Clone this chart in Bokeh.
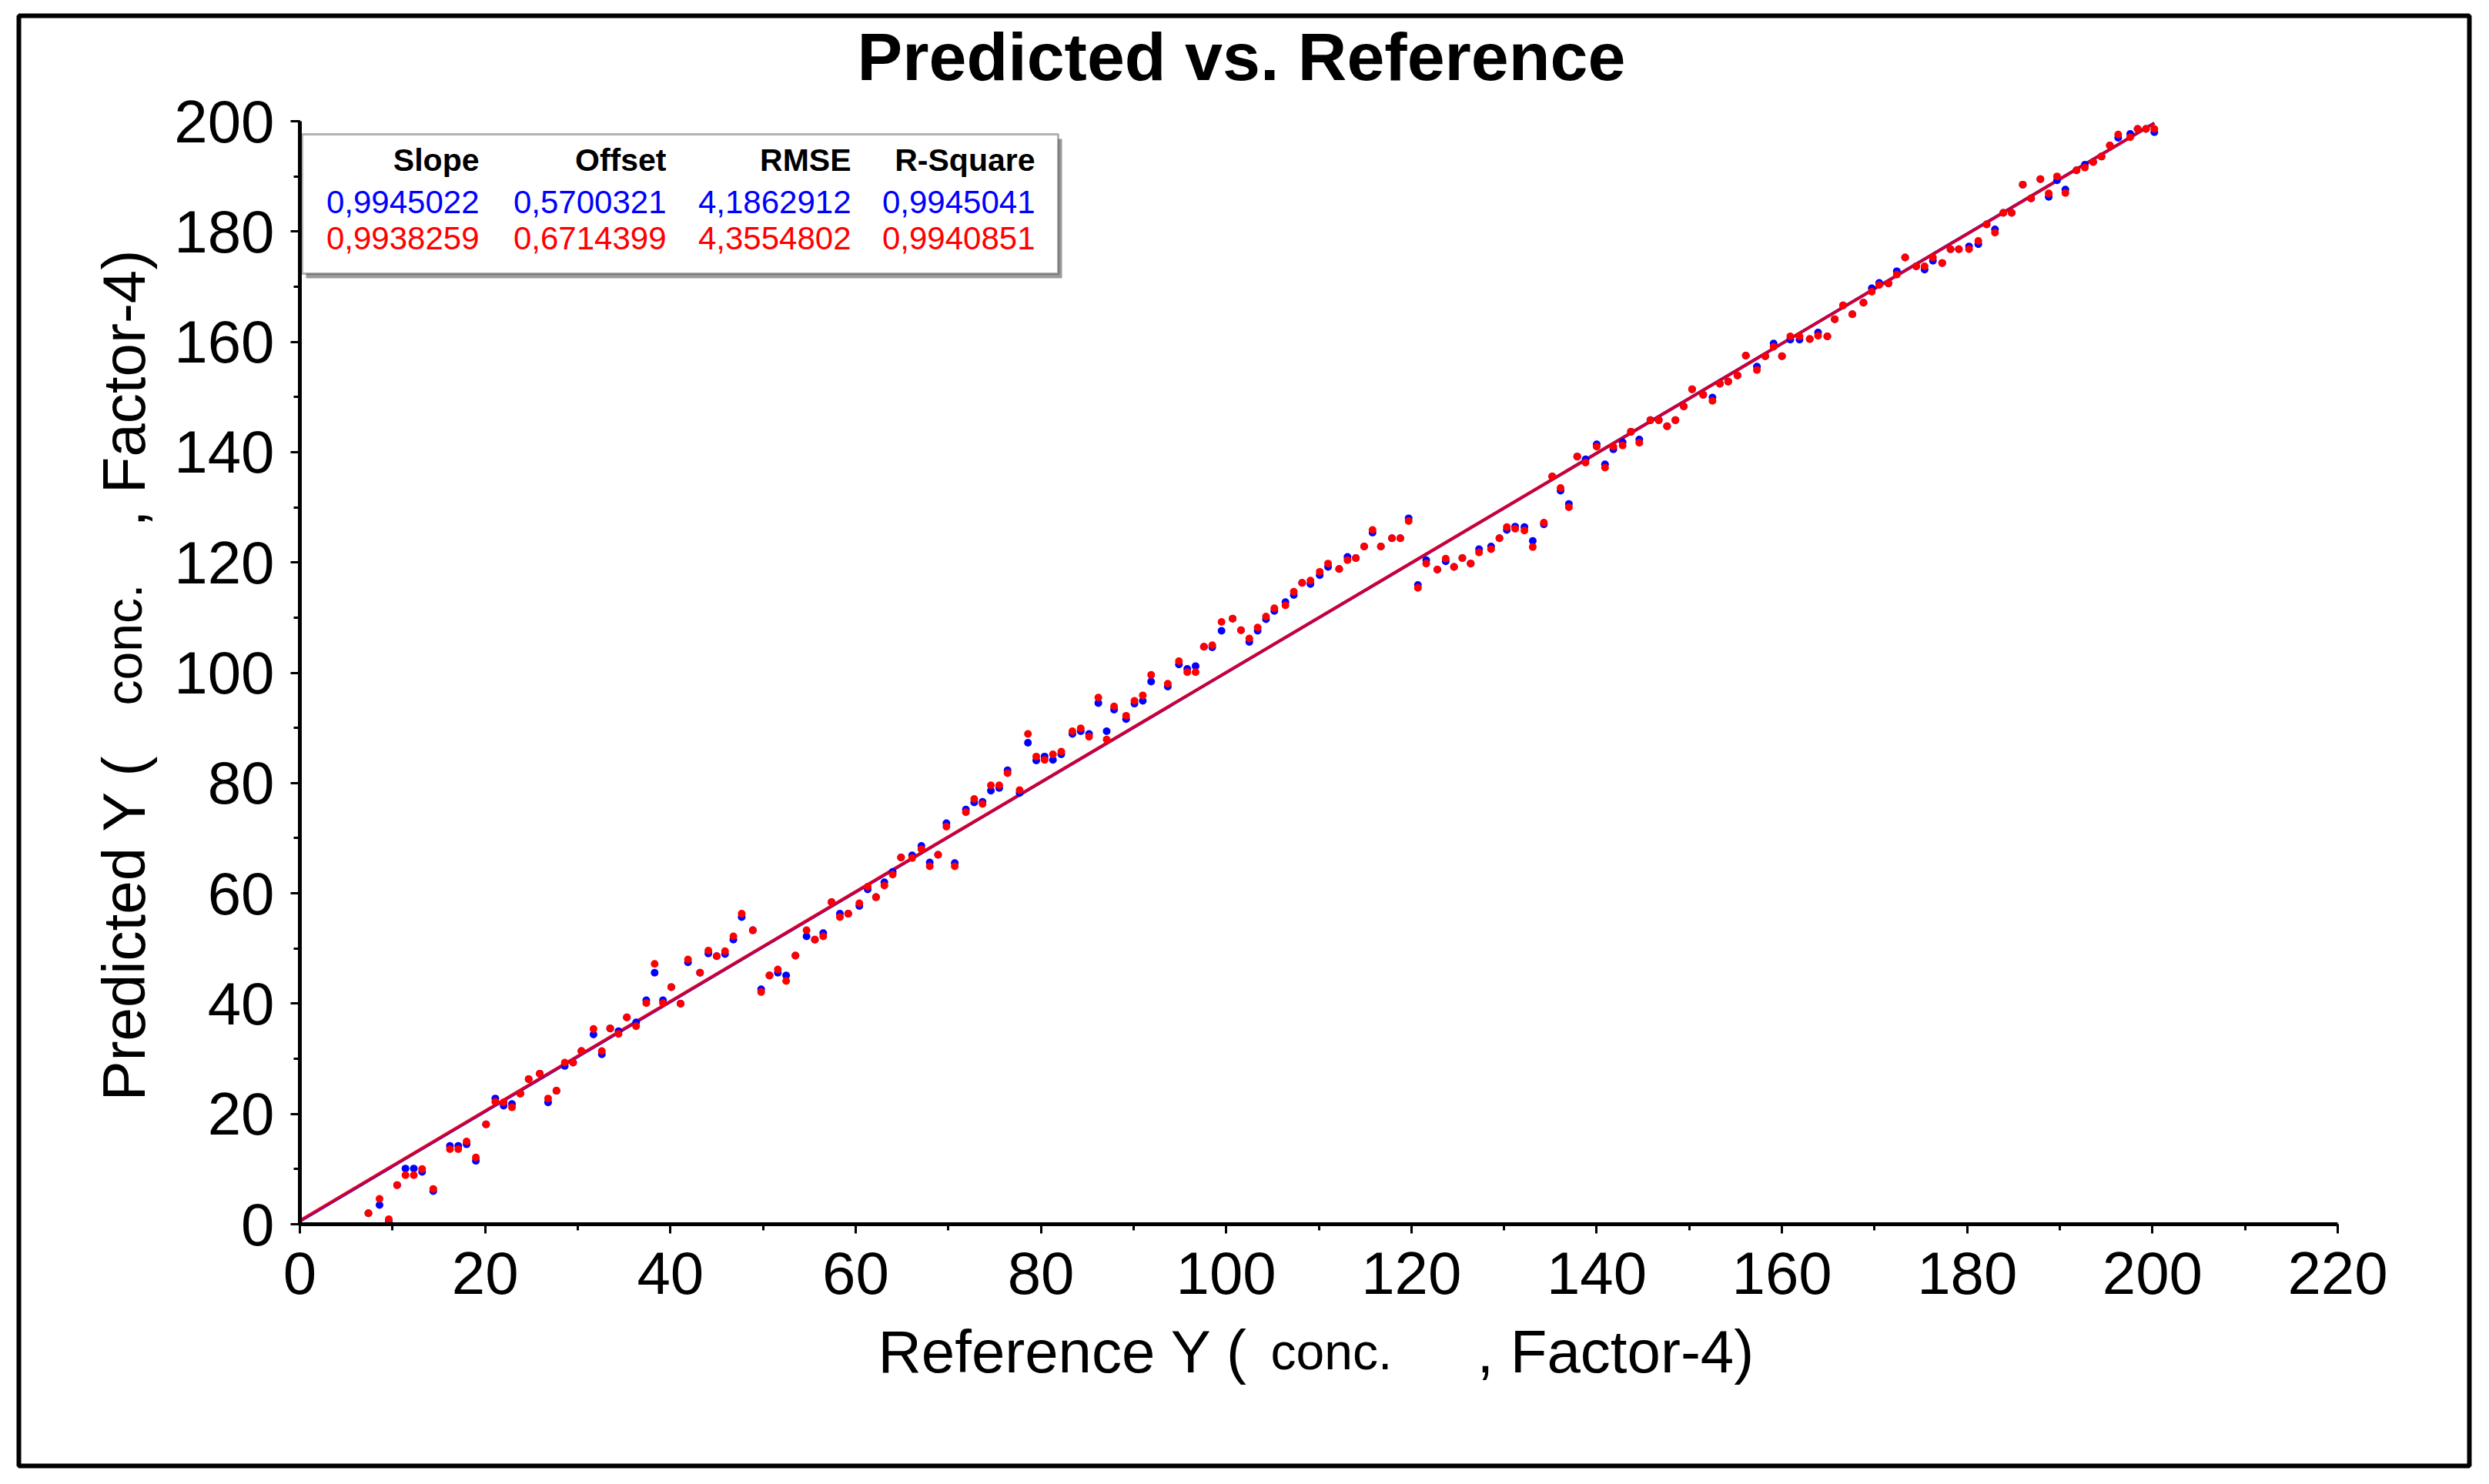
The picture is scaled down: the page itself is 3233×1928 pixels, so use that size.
import math
from bokeh.plotting import figure
from bokeh.models import Range1d, SingleIntervalTicker, Label, BoxAnnotation, ColumnDataSource
from bokeh.core.properties import value
from bokeh.embed import file_html
from bokeh.resources import INLINE

# ---------------- data ----------------
reference_y = [
    7.4, 8.6, 9.6, 10.5, 11.4, 12.3, 13.2, 14.4, 16.2, 17.1,
    18.0, 19.0, 20.1, 21.1, 22.0, 22.9, 23.8, 24.7, 25.9, 26.8,
    27.7, 28.6, 29.5, 30.4, 31.7, 32.6, 33.5, 34.4, 35.3, 36.3,
    37.4, 38.3, 39.2, 40.1, 41.1, 41.9, 43.2, 44.1, 45.0, 45.9,
    46.8, 47.7, 48.9, 49.8, 50.7, 51.6, 52.5, 53.5, 54.7, 55.6,
    56.5, 57.4, 58.3, 59.2, 60.4, 61.3, 62.2, 63.1, 64.0, 64.9,
    66.1, 67.1, 68.0, 68.9, 69.8, 70.7, 71.9, 72.8, 73.7, 74.6,
    75.5, 76.4, 77.7, 78.6, 79.5, 80.4, 81.3, 82.2, 83.4, 84.3,
    85.2, 86.2, 87.1, 87.9, 89.2, 90.1, 91.0, 91.9, 93.7, 94.9,
    95.8, 96.7, 97.6, 98.5, 99.5, 100.7, 101.6, 102.5, 103.4, 104.3,
    105.2, 106.4, 107.3, 108.2, 109.1, 110.1, 111.0, 112.2, 113.1, 114.0,
    114.9, 115.8, 116.7, 117.9, 118.8, 119.7, 120.7, 121.6, 122.8, 123.7,
    124.6, 125.5, 126.4, 127.3, 128.6, 129.5, 130.3, 131.2, 132.2, 133.1,
    134.3, 135.2, 136.1, 137.0, 137.9, 138.8, 140.0, 140.9, 141.8, 142.8,
    143.7, 144.6, 145.8, 146.7, 147.6, 148.5, 149.4, 150.3, 151.5, 152.5,
    153.3, 154.2, 155.2, 156.1, 157.3, 158.2, 159.1, 160.0, 160.9, 161.9,
    163.0, 163.9, 164.9, 165.7, 166.6, 167.6, 168.8, 169.7, 170.5, 171.5,
    172.4, 173.3, 174.5, 175.4, 176.3, 177.3, 178.2, 179.1, 180.2, 181.2,
    182.1, 183.0, 183.9, 184.8, 186.0, 186.9, 187.9, 188.8, 189.7, 190.6,
    191.8, 192.7, 193.6, 194.5, 195.4, 196.3, 197.6, 198.4, 199.3, 200.2,
]
predicted_red = [
    2.0, 4.6, 0.9, 7.1, 8.9, 8.9, 10.0, 6.4, 13.6, 13.6,
    15.0, 12.1, 18.1, 22.2, 22.1, 21.2, 23.7, 26.3, 27.3, 22.8,
    24.2, 29.3, 29.3, 31.4, 35.4, 31.4, 35.5, 34.5, 37.5, 35.9,
    40.1, 47.2, 40.1, 43.0, 40.0, 48.0, 45.6, 49.6, 48.6, 49.5,
    52.2, 56.3, 53.3, 42.1, 45.1, 46.2, 44.1, 48.7, 53.3, 51.6,
    52.2, 58.4, 55.7, 56.3, 58.2, 61.2, 59.3, 61.4, 63.4, 66.5,
    66.4, 68.0, 64.9, 67.0, 72.1, 64.9, 74.7, 77.1, 76.2, 79.6,
    79.6, 81.8, 78.7, 88.9, 84.8, 84.2, 85.2, 85.7, 89.4, 89.9,
    88.4, 95.5, 87.9, 93.9, 92.2, 94.9, 95.9, 99.6, 98.0, 102.1,
    100.1, 100.1, 104.7, 105.0, 109.2, 109.8, 107.7, 106.2, 108.2, 110.2,
    111.7, 112.2, 114.7, 116.3, 116.7, 118.3, 119.8, 118.8, 120.4, 120.8,
    122.9, 125.9, 122.9, 124.4, 124.4, 127.5, 115.4, 119.8, 118.7, 120.7,
    119.2, 120.8, 119.8, 121.8, 122.4, 124.4, 126.4, 126.1, 125.8, 122.8,
    127.2, 135.6, 133.5, 130.0, 139.2, 138.1, 141.0, 137.2, 141.0, 141.2,
    143.7, 141.7, 145.8, 145.8, 144.7, 145.8, 148.3, 151.4, 150.4, 149.3,
    152.4, 152.8, 153.9, 157.5, 154.9, 157.4, 159.1, 157.4, 161.0, 161.0,
    160.5, 161.1, 161.0, 164.1, 166.6, 165.0, 167.1, 169.1, 170.3, 170.6,
    172.2, 175.3, 173.7, 173.7, 175.3, 174.3, 176.8, 176.8, 176.8, 178.3,
    181.3, 179.8, 183.4, 183.4, 188.5, 186.0, 189.5, 186.9, 190.0, 187.0,
    191.1, 191.6, 192.6, 193.6, 195.6, 197.6, 197.1, 198.6, 198.6, 198.6,
]
predicted_blue = [
    2.0, 3.5, 0.6, 7.1, 10.1, 10.1, 9.5, 6.0, 14.2, 14.2,
    14.5, 11.5, 18.1, 22.8, 21.5, 21.8, 23.7, 26.3, 27.3, 22.1,
    24.2, 28.7, 29.3, 31.4, 34.4, 30.8, 35.5, 35.0, 37.5, 36.6,
    40.6, 45.6, 40.6, 43.0, 40.0, 47.5, 45.6, 49.1, 48.6, 49.0,
    51.6, 55.7, 53.3, 42.6, 45.1, 45.6, 45.1, 48.7, 52.2, 51.6,
    52.8, 58.4, 56.3, 56.3, 57.7, 60.7, 59.3, 62.0, 63.9, 66.5,
    66.9, 68.6, 65.6, 67.0, 72.7, 65.5, 75.2, 76.5, 76.6, 78.6,
    79.1, 82.3, 78.2, 87.3, 84.1, 84.8, 84.2, 85.2, 88.9, 89.4,
    88.9, 94.5, 89.4, 93.3, 91.6, 94.4, 94.9, 98.4, 97.5, 101.5,
    100.7, 101.2, 104.7, 104.6, 107.6, 109.8, 107.7, 105.6, 107.6, 109.7,
    111.2, 112.8, 114.1, 116.3, 116.1, 117.7, 119.2, 118.8, 121.0, 120.8,
    122.9, 125.4, 122.9, 124.4, 124.4, 128.0, 115.9, 120.4, 118.7, 120.2,
    119.2, 120.8, 119.8, 122.4, 122.9, 124.4, 125.9, 126.5, 126.4, 123.9,
    126.9, 135.6, 133.0, 130.6, 139.2, 138.7, 141.4, 137.8, 140.5, 141.8,
    143.7, 142.3, 145.8, 145.8, 144.7, 145.8, 148.3, 151.4, 150.4, 149.9,
    152.4, 152.8, 153.9, 157.5, 155.5, 157.4, 159.7, 157.4, 160.4, 160.4,
    160.5, 161.7, 161.0, 164.1, 166.6, 165.0, 167.1, 169.7, 170.7, 170.6,
    172.8, 175.3, 173.7, 173.1, 174.7, 174.3, 176.8, 176.8, 177.3, 177.7,
    181.3, 180.4, 183.4, 183.4, 188.5, 186.0, 189.5, 186.3, 189.3, 187.6,
    191.1, 192.1, 192.6, 193.6, 195.6, 197.0, 197.7, 198.6, 198.6, 198.0,
]

stat_names = ["Slope", "Offset", "RMSE", "R-Square"]
stats_blue = ["0,9945022", "0,5700321", "4,1862912", "0,9945041"]
stats_red = ["0,9938259", "0,6714399", "4,3554802", "0,9940851"]
slope_blue, offset_blue = 0.9945022, 0.5700321
slope_red, offset_red = 0.9938259, 0.6714399

title_text = "Predicted vs. Reference"
x_label_parts = ["Reference Y (", "conc.", ", Factor-4)"]
y_label_parts = ["Predicted Y (", "conc.", ", Factor-4)"]

# ---------------- layout constants (pixels) ----------------
W, H = 3225, 1920
FL, FR, FT, FB = 389, 3036, 157, 1590   # frame edges
X_MAX, Y_MAX = 220, 200
FONT = "Liberation Sans"

def dx(px):   # pixel -> data, for decorations outside the frame
    return (px - FL) / (FR - FL) * X_MAX

def dy(py):
    return (FB - py) / (FB - FT) * Y_MAX

def sx(px):   # pixel -> frame-relative screen units
    return px - FL

def sy(py):
    return FB - py

p = figure(width=W, height=H, output_backend="svg", toolbar_location=None,
           x_range=Range1d(0, X_MAX), y_range=Range1d(0, Y_MAX),
           min_border_left=FL, min_border_right=W - FR,
           min_border_top=FT, min_border_bottom=H - FB)
p.title.visible = False
p.grid.visible = False
p.outline_line_color = None
p.background_fill_color = "white"
p.border_fill_color = "white"

for ax in (p.xaxis[0], p.yaxis[0]):
    ax.ticker = SingleIntervalTicker(interval=20, num_minor_ticks=2)
    ax.axis_line_width = 5
    ax.axis_line_color = "black"
    ax.major_tick_line_width = 3
    ax.minor_tick_line_width = 3
    ax.major_tick_in = 0
    ax.major_tick_out = 12
    ax.minor_tick_in = 0
    ax.minor_tick_out = 8
    ax.major_label_text_font = FONT
    ax.major_label_text_font_size = "78px"
    ax.major_label_text_color = "black"
p.xaxis[0].major_label_standoff = 24
p.yaxis[0].major_label_standoff = 21

# regression lines (blue under red gives the crimson tone)
line_x = [0.0, max(reference_y)]
p.line(line_x, [offset_blue + slope_blue * v for v in line_x], line_color="#0000FF", line_width=4)
p.line(line_x, [offset_red + slope_red * v for v in line_x], line_color="#FF0000", line_width=4, line_alpha=0.8)

src = ColumnDataSource(dict(x=reference_y, blue=predicted_blue, red=predicted_red))
p.scatter("x", "blue", source=src, marker="circle", size=10, fill_color="#0000FF", line_color=None)
p.scatter("x", "red", source=src, marker="circle", size=10, fill_color="#FF0000", line_color=None)

# texts outside the frame: glyphs on the (unclipped) overlay level
def outer_text(text, px, py, size, align="left", style="normal", angle=0.0):
    p.text(x=[dx(px)], y=[dy(py)], text=[text], angle=angle,
           text_align=align, text_baseline="alphabetic",
           text_font=value(FONT), text_font_size=value(size),
           text_font_style=style, text_color="black", level="overlay")

outer_text(title_text, 1612, 73, "88px", align="center", style="bold")

outer_text(x_label_parts[0], 1140, 1755, "78px")
outer_text(x_label_parts[1], 1650, 1755, "66px")
outer_text(x_label_parts[2], 1918, 1755, "78px")

outer_text(y_label_parts[0], 160, 1430, "78px", angle=math.pi / 2)
outer_text(y_label_parts[1], 160, 916, "66px", angle=math.pi / 2)
outer_text(y_label_parts[2], 160, 684, "78px", angle=math.pi / 2)

# outer border frame
p.quad(left=[dx(24)], right=[dx(3207)], top=[dy(20)], bottom=[dy(1904)],
       fill_color=None, line_color="black", line_width=6, level="overlay")

# statistics table box with shadow
box_units = dict(left_units="screen", right_units="screen", top_units="screen", bottom_units="screen")
p.add_layout(BoxAnnotation(left=sx(397), right=sx(1379), top=sy(180), bottom=sy(361),
                           fill_color="#9a9a9a", fill_alpha=1.0, line_color=None, **box_units))
p.add_layout(BoxAnnotation(left=sx(392), right=sx(1374), top=sy(174), bottom=sy(355),
                           fill_color="white", fill_alpha=1.0, line_color="black", line_width=3, **box_units))

def label(text, px, py, size, align="left", style="normal", color="black"):
    p.add_layout(Label(x=sx(px), y=sy(py), x_units="screen", y_units="screen",
                       text=text, text_align=align, text_baseline="alphabetic",
                       text_font=FONT, text_font_size=size, text_font_style=style,
                       text_color=color))

col_right = [622, 865, 1105, 1344]
for i in range(4):
    label(stat_names[i], col_right[i], 207, "41px", align="right", style="bold")
    label(stats_blue[i], col_right[i], 262, "42px", align="right", color="#0000FF")
    label(stats_red[i], col_right[i], 309, "42px", align="right", color="#FF0000")

open("out.html", "w").write(file_html(p, INLINE))
